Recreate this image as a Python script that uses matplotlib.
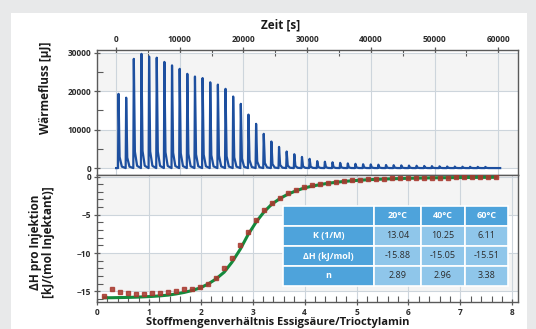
import numpy as np
import matplotlib
matplotlib.use("Agg")
import matplotlib.pyplot as plt
from matplotlib.patches import Rectangle
import matplotlib.ticker as ticker

plt.rcParams["font.family"] = ["Open Sans", "DejaVu Sans"]

# ── data ────────────────────────────────────────────────────────────────────
inj_time = [300, 1500, 2700, 3900, 5100, 6300, 7500, 8700, 9900, 11100,
            12300, 13500, 14700, 15900, 17100, 18300, 19500, 20700, 21900, 23100,
            24300, 25500, 26700, 27900, 29100, 30300, 31500, 32700, 33900, 35100,
            36300, 37500, 38700, 39900, 41100, 42300, 43500, 44700, 45900, 47100,
            48300, 49500, 50700, 51900, 53100, 54300, 55500, 56700, 57900]
peak_heat = [19300, 18300, 28400, 29700, 29000, 28700, 27600, 26700, 25800, 24500,
             23800, 23400, 22300, 21700, 20600, 18600, 16700, 13900, 11500, 8900,
             6900, 5500, 4300, 3600, 2900, 2400, 1800, 1650, 1500, 1350,
             1200, 1100, 1000, 950, 880, 800, 750, 700, 650, 600,
             550, 500, 450, 400, 380, 350, 330, 310, 300]
trace_end = 60300

ratio = [0.14, 0.29, 0.44, 0.60, 0.75, 0.91, 1.06, 1.21, 1.37, 1.52,
         1.68, 1.83, 1.99, 2.14, 2.29, 2.45, 2.60, 2.76, 2.91, 3.07,
         3.22, 3.37, 3.53, 3.68, 3.84, 3.99, 4.15, 4.30, 4.45, 4.61,
         4.76, 4.92, 5.07, 5.22, 5.38, 5.53, 5.69, 5.84, 6.00, 6.15,
         6.30, 6.46, 6.61, 6.77, 6.92, 7.07, 7.23, 7.38, 7.54, 7.69]
dh_meas = [-15.65, -14.7, -15.1, -15.25, -15.3, -15.3, -15.25, -15.2, -15.1, -14.9,
           -14.7, -14.7, -14.5, -14.1, -13.3, -12.0, -10.7, -8.9, -7.2, -5.65,
           -4.35, -3.5, -2.8, -2.2, -1.75, -1.4, -1.15, -0.95, -0.8, -0.65,
           -0.55, -0.48, -0.42, -0.36, -0.32, -0.28, -0.25, -0.22, -0.2, -0.18,
           -0.16, -0.15, -0.14, -0.13, -0.12, -0.11, -0.1, -0.1, -0.09, -0.09]
dh_fit = [-15.85, -15.84, -15.82, -15.8, -15.77, -15.72, -15.67, -15.6, -15.5, -15.35,
          -15.15, -14.9, -14.55, -14.05, -13.4, -12.5, -11.2, -9.5, -7.6, -5.9,
          -4.6, -3.6, -2.85, -2.3, -1.85, -1.5, -1.25, -1.05, -0.88, -0.75,
          -0.64, -0.55, -0.48, -0.42, -0.37, -0.33, -0.29, -0.26, -0.23, -0.21,
          -0.19, -0.17, -0.16, -0.15, -0.14, -0.13, -0.12, -0.11, -0.11, -0.1]

table_cols = ["", "20°C", "40°C", "60°C"]
table_rows = ["K (1/M)", "ΔH (kJ/mol)", "n"]
table_vals = [["13.04", "10.25", "6.11"],
              ["-15.88", "-15.05", "-15.51"],
              ["2.89", "2.96", "3.38"]]

# ── styles ──────────────────────────────────────────────────────────────────
BLUE = "#1d4f9f"
GREEN = "#138a3c"
RED = "#a8392f"
GRID = "#cdd5dc"
BAND = "#f4f4f4"
SPINE = "#5a5a5a"
TXT = "#2b2b2b"
HEAD = "#4ea3db"
CELL = "#8fc6ea"

W, H = 536, 329
fig = plt.figure(figsize=(W / 100, H / 100), dpi=100)
fig.patch.set_facecolor("#e8e9ea")
fig.add_artist(Rectangle((11 / W, 0), (527 - 11) / W, (H - 13) / H,
                         transform=fig.transFigure, facecolor="white",
                         edgecolor="none", zorder=0))


def px_axes(x0, y0, x1, y1):
    return fig.add_axes([x0 / W, 1 - y1 / H, (x1 - x0) / W, (y1 - y0) / H])


def style_axes(ax):
    ax.set_facecolor("white")
    for s in ax.spines.values():
        s.set_color(SPINE)
        s.set_linewidth(1.0)
    ax.tick_params(which="major", direction="inout", length=5, width=0.9,
                   color=SPINE, labelsize=6, labelcolor=TXT, pad=1.5)
    ax.tick_params(which="minor", direction="in", length=4, width=0.8, color=SPINE)
    for lab in ax.get_xticklabels() + ax.get_yticklabels():
        lab.set_fontweight("bold")
    ax.grid(True, which="major", color=GRID, linewidth=0.8)
    ax.set_axisbelow(True)


# ── top: heat flow trace ───────────────────────────────────────────────────
ax1 = px_axes(97, 50, 518, 175)
t_line, q_line = [0], [0]
for t, h in zip(inj_time, peak_heat):
    t_line += [t, t + 80, t + 250, t + 600]
    q_line += [0, h, h * 0.15, h * 0.02]
t_line += [trace_end]
q_line += [0]
ax1.plot(t_line, q_line, color=BLUE, linewidth=1.6, zorder=3)
ax1.set_xlim(-3000, 63100)
ax1.set_ylim(-1800, 30700)
for lo, hi in [(0, 10000), (20000, 30000)]:
    ax1.axhspan(lo, hi, color=BAND, zorder=0, linewidth=0)
ax1.xaxis.tick_top()
ax1.xaxis.set_major_locator(ticker.MultipleLocator(10000))
ax1.xaxis.set_minor_locator(ticker.MultipleLocator(5000))
ax1.yaxis.set_major_locator(ticker.MultipleLocator(10000))
ax1.yaxis.set_minor_locator(ticker.MultipleLocator(5000))
style_axes(ax1)
ax1.tick_params(axis="x", which="major", top=True, bottom=False)
ax1.tick_params(axis="x", which="minor", top=True, bottom=False)

# ── bottom: integrated heats + fit ──────────────────────────────────────────
ax2 = px_axes(97, 175, 518, 302)
for lo, hi in [(-5, 0), (-15, -10)]:
    ax2.axhspan(lo, hi, color=BAND, zorder=0, linewidth=0)
ax2.plot(ratio, dh_fit, color=GREEN, linewidth=2.2, zorder=3)
ax2.plot(ratio, dh_meas, linestyle="none", marker="s", markersize=2.7,
         color=RED, alpha=0.85, zorder=4)
ax2.set_xlim(0, 8.11)
ax2.set_ylim(-16.4, 0.2)
ax2.xaxis.set_major_locator(ticker.MultipleLocator(1))
ax2.xaxis.set_minor_locator(ticker.MultipleLocator(0.2))
ax2.yaxis.set_major_locator(ticker.MultipleLocator(5))
ax2.yaxis.set_minor_locator(ticker.MultipleLocator(1))
style_axes(ax2)

# table
col_w = [91, 47, 44, 43]
tbl = ax2.table(cellText=[[r] + v for r, v in zip(table_rows, table_vals)],
                colLabels=table_cols, cellLoc="center",
                colWidths=[c / sum(col_w) for c in col_w],
                bbox=[0.442, 0.126, 0.534, 0.63], zorder=5)
tbl.auto_set_font_size(False)
for (r, c), cell in tbl.get_celld().items():
    cell.set_edgecolor("white")
    cell.set_linewidth(1.2)
    cell.get_text().set_fontsize(6.5)
    if r == 0 or c == 0:
        cell.set_facecolor(HEAD)
        cell.get_text().set_color("white")
        cell.get_text().set_fontweight("bold")
    else:
        cell.set_facecolor(CELL)
        cell.get_text().set_color(TXT)

# ── labels ─────────────────────────────────────────────────────────────────
lab = dict(fontsize=8.5, fontweight="bold", color="#1a1a1a")
fig.text(281 / W, 1 - 25 / H, "Zeit [s]", ha="center", va="center", **lab)
fig.text(46 / W, 1 - 88 / H, "Wärmefluss [µJ]", rotation=90,
         ha="center", va="center", **lab)
fig.text(42 / W, 1 - 242 / H, "ΔH pro Injektion\n[kJ/(mol Injektant)]",
         rotation=90, ha="center", va="center", linespacing=1.0, **lab)
fig.text(278 / W, 1 - 323 / H, "Stoffmengenverhältnis Essigsäure/Trioctylamin",
         ha="center", va="center", fontsize=8, fontweight="bold", color="#1a1a1a")

fig.savefig("out.png", dpi=100, facecolor=fig.get_facecolor())
